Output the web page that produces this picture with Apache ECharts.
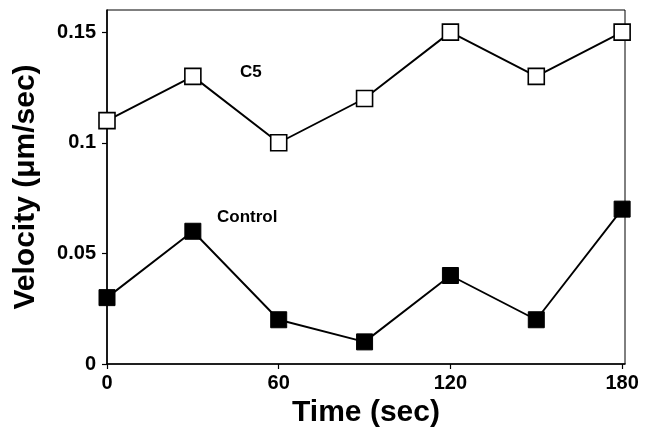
<!DOCTYPE html>
<html>
<head>
<meta charset="utf-8">
<script src="https://cdn.jsdelivr.net/npm/echarts@6/dist/echarts.min.js"></script>
<style>
html,body{margin:0;padding:0;background:#fff;}
#chart{width:650px;height:442px;}
</style>
</head>
<body>
<div id="chart"></div>
<script>
var timeSec = [0, 30, 60, 90, 120, 150, 180];
var c5Values = [0.11, 0.13, 0.10, 0.12, 0.15, 0.13, 0.15];
var controlValues = [0.03, 0.06, 0.02, 0.01, 0.04, 0.02, 0.07];
var xTickValues = [0, 60, 120, 180];
var yTickValues = [0, 0.05, 0.1, 0.15];
var seriesNames = ['C5', 'Control'];

function pairs(xs, ys) { return xs.map(function (x, i) { return [x, ys[i]]; }); }

var font = 'Liberation Sans, Arial, Helvetica, sans-serif';
var chart = echarts.init(document.getElementById('chart'), null, {renderer: 'canvas'});
chart.setOption({
  animation: false,
  backgroundColor: '#fff',
  grid: {left: 107, right: 25, top: 10, bottom: 78, show: true, borderColor: '#000', borderWidth: 1, backgroundColor: 'transparent'},
  xAxis: {
    type: 'value', min: 0, max: 181,
    name: 'Time (sec)', nameLocation: 'middle', nameGap: 32,
    nameTextStyle: {fontFamily: font, fontWeight: 'bold', fontSize: 30, color: '#000'},
    axisLine: {show: true, onZero: false, lineStyle: {color: '#000', width: 1.6}},
    axisTick: {show: true, inside: false, length: 5, customValues: xTickValues, lineStyle: {color: '#000', width: 1.2}},
    axisLabel: {customValues: xTickValues, margin: 9, fontFamily: font, fontWeight: 'bold', fontSize: 20, color: '#000'},
    splitLine: {show: false}
  },
  yAxis: {
    type: 'value', min: 0, max: 0.16,
    name: 'Velocity (\u03bcm/sec)', nameLocation: 'middle', nameGap: 66,
    nameTextStyle: {fontFamily: font, fontWeight: 'bold', fontSize: 30, color: '#000'},
    axisLine: {show: true, onZero: false, lineStyle: {color: '#000', width: 1.6}},
    axisTick: {show: true, inside: false, length: 5, customValues: yTickValues, lineStyle: {color: '#000', width: 1.2}},
    axisLabel: {customValues: yTickValues, margin: 11, fontFamily: font, fontWeight: 'bold', fontSize: 20, color: '#000',
      formatter: function (v) { return String(Math.round(v * 100) / 100); }},
    splitLine: {show: false}
  },
  series: [
    {
      name: seriesNames[0], type: 'line', data: pairs(timeSec, c5Values),
      symbol: 'rect', symbolSize: 16, showAllSymbol: true,
      lineStyle: {color: '#000', width: 1.9},
      itemStyle: {color: '#fff', borderColor: '#000', borderWidth: 1.6},
      z: 3
    },
    {
      name: seriesNames[1], type: 'line', data: pairs(timeSec, controlValues),
      symbol: 'rect', symbolSize: 16, showAllSymbol: true,
      lineStyle: {color: '#000', width: 1.9},
      itemStyle: {color: '#000', borderColor: '#000', borderWidth: 1},
      z: 3
    }
  ],
  graphic: [
    {type: 'text', left: 240, top: 64, style: {text: seriesNames[0], font: 'bold 17px ' + font, fill: '#000'}},
    {type: 'text', left: 217, top: 209, style: {text: seriesNames[1], font: 'bold 17px ' + font, fill: '#000'}}
  ]
});
</script>
</body>
</html>
